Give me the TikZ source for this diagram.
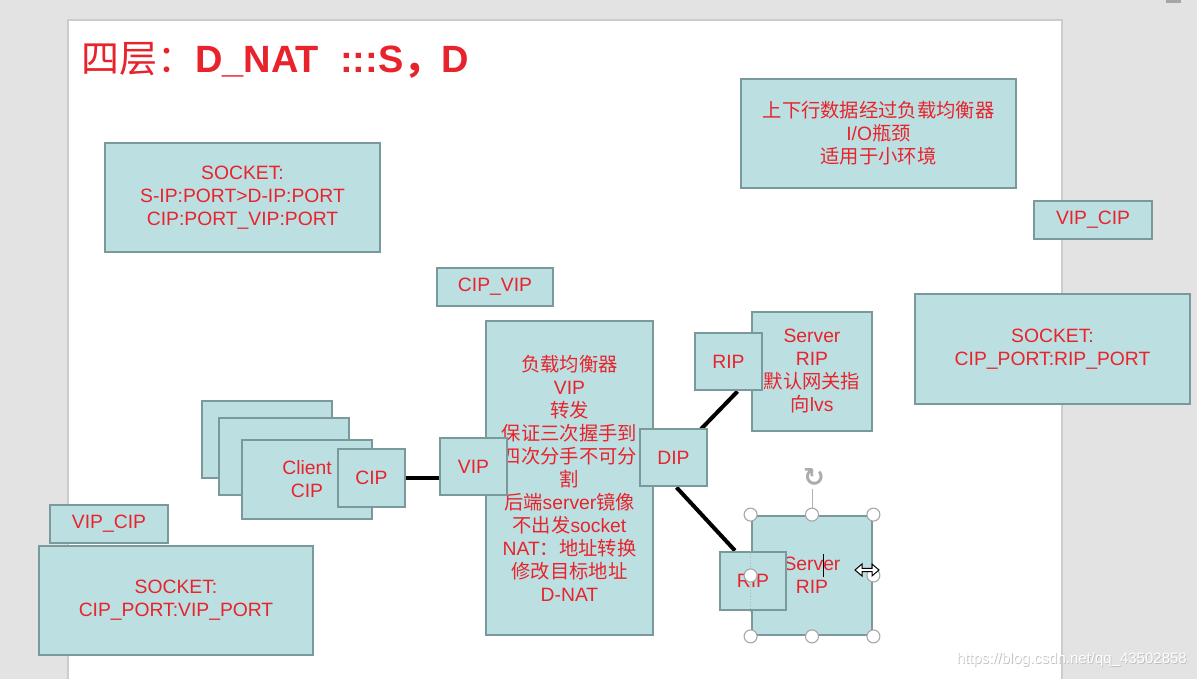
\documentclass[tikz,border=0pt]{standalone}
\usepackage{fontspec}
\setmainfont{Liberation Sans}
\newfontfamily\cjk{Noto Sans CJK SC}
\newfontfamily\dejavu{DejaVu Sans}
\newcommand\zh[1]{{\cjk #1}}
\usetikzlibrary{arrows.meta,calc}
\definecolor{boxfill}{HTML}{BCDFE2}
\definecolor{boxline}{HTML}{7B999B}
\definecolor{txtred}{HTML}{E8232B}
\definecolor{pagegray}{HTML}{E3E3E3}
\pgfdeclarelayer{bg}
\pgfdeclarelayer{lines}
\pgfsetlayers{bg,lines,main}
\begin{document}
\begin{tikzpicture}[x=1pt,y=-1pt,
  tbox/.style={draw=boxline, fill=boxfill, line width=2.8pt, inner sep=0pt, align=center, text=txtred, font=\fontsize{19.3}{23}\selectfont},
  wire/.style={line width=4pt, black},
  selhandle/.style={circle, draw=gray!70, fill=white, line width=1.1pt, minimum size=13pt, inner sep=0pt}]
\useasboundingbox (0,0) rectangle (1197,679);
\begin{pgfonlayer}{bg}
  \fill[pagegray] (0,0) rectangle (1197,679);
  \fill[white] (68,20) rectangle (1062,679);
  \draw[gray!40, line width=1.2pt] (68,679) -- (68,20) -- (1062,20) -- (1062,679);
  \fill[gray!70] (1166,0) rectangle (1181,3);
\end{pgfonlayer}

% title
\node[anchor=base west, text=txtred, font=\fontsize{38}{40}\selectfont, inner sep=0pt] (title) at (81,73)
  {\zh{四层：}\textbf{D\_NAT\ \ :::S}{\cjk\bfseries ，}\textbf{D}};

% info boxes
\node[tbox, minimum width=275pt, minimum height=109pt] (sock1) at (242.5,197.5)
  {SOCKET:\\S-IP:PORT>D-IP:PORT\\CIP:PORT\_VIP:PORT};
\node[tbox, minimum width=275pt, minimum height=109pt] (note) at (878.5,133.5)
  {\zh{上下行数据经过负载均衡器}\\I/O\zh{瓶颈}\\\zh{适用于小环境}};
\node[tbox, minimum width=118pt, minimum height=38pt] (vipcip1) at (1093,220) {VIP\_CIP};
\node[tbox, minimum width=275pt, minimum height=110pt] (sock2) at (1052.5,349)
  {SOCKET:\\CIP\_PORT:RIP\_PORT};
\node[tbox, minimum width=116pt, minimum height=38pt] (cipvip) at (495,287) {CIP\_VIP};
\node[tbox, minimum width=118pt, minimum height=38pt] (vipcip2) at (109,524) {VIP\_CIP};
\node[tbox, minimum width=274pt, minimum height=109pt] (sock3) at (176,600.5)
  {SOCKET:\\CIP\_PORT:VIP\_PORT};

% load balancer
\node[tbox, minimum width=167pt, minimum height=314pt] (lb) at (569.5,478)
  {\zh{负载均衡器}\\VIP\\\zh{转发}\\\zh{保证三次握手到}\\\zh{四次分手不可分}\\\zh{割}\\\zh{后端}server\zh{镜像}\\\zh{不出发}socket\\NAT\zh{：地址转换}\\\zh{修改目标地址}\\D-NAT};

% clients
\node[tbox, minimum width=130pt, minimum height=77pt] (c1) at (267,439.5) {};
\node[tbox, minimum width=130pt, minimum height=77pt] (c2) at (284,456.5) {};
\node[tbox, minimum width=130pt, minimum height=79pt] (c3) at (307,479.5) {Client\\CIP};
\node[tbox, minimum width=67pt, minimum height=58pt] (cip) at (371.5,478) {CIP};
\node[tbox, minimum width=67pt, minimum height=57pt] (vip) at (473.5,466.5) {VIP};
\node[tbox, minimum width=67pt, minimum height=57pt] (dip) at (673.5,457.5) {DIP};

% servers
\node[tbox, minimum width=120pt, minimum height=119pt] (srv1) at (812,371.5)
  {Server\\RIP\\\zh{默认网关指}\\\zh{向}lvs};
\node[tbox, minimum width=67pt, minimum height=57pt] (rip1) at (728.5,361.5) {RIP};
\node[tbox, minimum width=120pt, minimum height=119pt] (srv2) at (812,575.5)
  {Server\\RIP};
\node[tbox, minimum width=66pt, minimum height=58pt] (rip2) at (753,581) {RIP};

% connectors
\begin{pgfonlayer}{lines}
  \draw[wire] (cip.east) -- (cip.east -| vip.west);
  \draw[wire] (dip.center) -- ([xshift=9pt]rip1.south);
  \draw[wire] ([xshift=3pt]dip.south) -- ([xshift=-18pt]rip2.north);
\end{pgfonlayer}

% selection decoration on lower server
\draw[gray!60, line width=0.8pt, dash pattern=on 1.5pt off 1.5pt] (srv2.north west |- rip2.north) -- (srv2.north west |- rip2.south);
\draw[gray!60, line width=1pt] ([yshift=26pt]srv2.north) -- (srv2.north);
\foreach \a/\n in {north west/h1,north/h2,north east/h3,west/h4,east/h5,south west/h6,south/h7,south east/h8}
  \node[selhandle] (\n) at (srv2.\a) {};
\node[text=gray!65, font=\dejavu\fontsize{26}{26}\selectfont\bfseries, inner sep=0pt] (rot) at (814,478) {↻};
\draw[black, line width=1pt] (823,554) -- (823,577);
\draw[black, line width=1pt, fill=white, line join=miter]
  (855,570) -- (862,564) -- (862,568.3) -- (872,568.3) -- (872,564) -- (879,570)
  -- (872,576) -- (872,571.7) -- (862,571.7) -- (862,576) -- cycle;

% watermark
\node[anchor=east, text=gray!50, font=\fontsize{15}{17}\selectfont, inner sep=0pt] (wm0) at (1187.8,660.8) {https://blog.csdn.net/qq\_43502858};
\node[anchor=east, text=white, font=\fontsize{15}{17}\selectfont, inner sep=0pt] (wm) at (1187,660) {https://blog.csdn.net/qq\_43502858};
\end{tikzpicture}
\end{document}
